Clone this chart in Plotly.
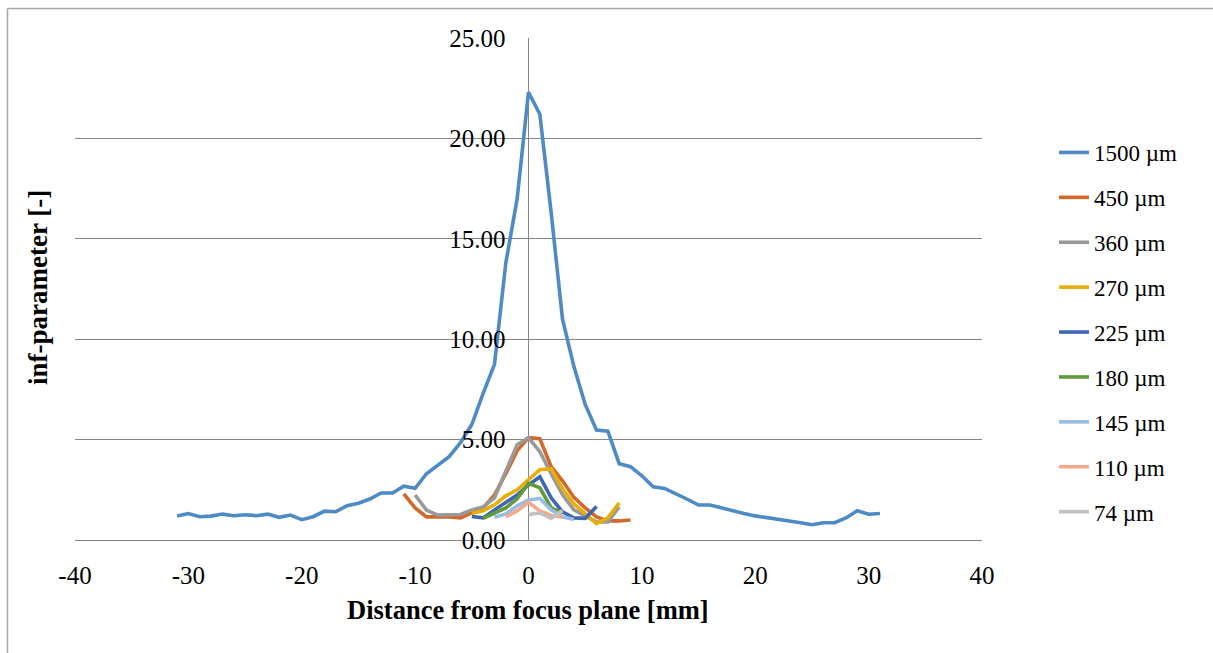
import plotly.graph_objects as go

# ---------------- data ----------------
x_1500 = list(range(-31, 32))
y_1500 = [1.19, 1.32, 1.16, 1.19, 1.29, 1.21, 1.26, 1.21, 1.29, 1.13,
          1.24, 1.01, 1.16, 1.44, 1.41, 1.71, 1.83, 2.04, 2.34, 2.34,
          2.68, 2.57, 3.30, 3.75, 4.15, 4.85, 5.75, 7.30, 8.75, 13.80,
          17.00, 22.30, 21.20, 16.30, 11.00, 8.65, 6.75, 5.47, 5.42, 3.80,
          3.65, 3.20, 2.65, 2.57, 2.32, 2.03, 1.74, 1.74, 1.60, 1.45,
          1.32, 1.20, 1.12, 1.05, 0.96, 0.86, 0.76, 0.86, 0.86, 1.10,
          1.46, 1.28, 1.32]

x_450 = list(range(-11, 10))
y_450 = [2.30, 1.60, 1.15, 1.15, 1.15, 1.10, 1.33, 1.60, 2.25, 3.30,
         4.45, 5.10, 5.05, 3.65, 2.95, 2.12, 1.60, 1.15, 0.95, 0.95, 1.00]

x_360 = list(range(-10, 9))
y_360 = [2.24, 1.49, 1.24, 1.24, 1.27, 1.50, 1.65, 2.10, 3.40, 4.75,
         5.10, 4.40, 3.30, 2.25, 1.50, 1.20, 0.90, 0.90, 1.65]

x_270 = list(range(-5, 9))
y_270 = [1.33, 1.45, 1.75, 2.20, 2.50, 3.00, 3.50, 3.55, 2.55, 1.80,
         1.30, 0.82, 1.10, 1.85]

x_225 = list(range(-5, 7))
y_225 = [1.17, 1.10, 1.50, 1.87, 2.24, 2.74, 3.15, 2.10, 1.40, 1.10, 1.08, 1.67]

x_180 = list(range(-4, 4))
y_180 = [1.08, 1.33, 1.60, 2.05, 2.82, 2.60, 1.60, 1.35]

x_145 = list(range(-3, 5))
y_145 = [1.13, 1.30, 1.70, 1.99, 2.07, 1.50, 1.16, 1.02]

x_110 = list(range(-2, 4))
y_110 = [1.15, 1.45, 1.88, 1.45, 1.22, 1.13]

x_74 = list(range(0, 4))
y_74 = [1.27, 1.35, 1.08, 1.47]

names = ["1500 µm", "450 µm", "360 µm", "270 µm", "225 µm",
         "180 µm", "145 µm", "110 µm", "74 µm"]
colors = ["#4E8BC5", "#D2692A", "#999999", "#E6AE06", "#3E67B1",
          "#5F9A3C", "#98BDE5", "#F2A98C", "#C2C2C2"]
xs = [x_1500, x_450, x_360, x_270, x_225, x_180, x_145, x_110, x_74]
ys = [y_1500, y_450, y_360, y_270, y_225, y_180, y_145, y_110, y_74]

x_ticks = [-40, -30, -20, -10, 0, 10, 20, 30, 40]
y_ticks = [0, 5, 10, 15, 20, 25]

FONT = "Liberation Serif"
W, H = 1213, 653
L, R, T, B = 75, 231, 38, 113
PW, PH = W - L - R, H - T - B

fig = go.Figure()
for i, (n, c, xv, yv) in enumerate(zip(names, colors, xs, ys)):
    fig.add_trace(go.Scatter(x=xv, y=yv, mode="lines", name=n,
                             legendgroup=f"g{i}",
                             line=dict(color=c, width=3.6)))

def px_x(p):
    return (p - L) / PW

def px_y(p):
    return (H - B - p) / PH

fig.update_layout(
    width=W, height=H,
    margin=dict(l=L, r=R, t=T, b=B),
    paper_bgcolor="white", plot_bgcolor="white",
    font=dict(family=FONT, size=25, color="black"),
    showlegend=True,
    legend=dict(x=px_x(1054), y=px_y(131), xanchor="left", yanchor="top",
                font=dict(family=FONT, size=23, color="black"),
                tracegroupgap=12, traceorder="grouped",
                bgcolor="rgba(0,0,0,0)"),
    xaxis=dict(range=[-40, 40], tickvals=x_ticks,
               ticktext=[str(v) for v in x_ticks],
               showgrid=False, zeroline=True, zerolinecolor="#868686",
               zerolinewidth=1,
               showline=True, linecolor="#868686", linewidth=1,
               ticks="", ticklabelstandoff=13,
               tickfont=dict(family=FONT, size=25, color="black")),
    yaxis=dict(range=[0, 25], tickvals=y_ticks,
               ticktext=[f"{v:.2f}" for v in y_ticks],
               anchor="free", position=0.5,
               showgrid=True, gridcolor="#868686", gridwidth=1,
               zeroline=False, showline=False,
               ticks="", ticklabelstandoff=23,
               tickfont=dict(family=FONT, size=25, color="black")),
    annotations=[
        dict(text="<b>Distance from focus plane [mm]</b>", xref="paper",
             yref="paper", x=px_x(528), y=px_y(610), xanchor="center",
             yanchor="middle", showarrow=False,
             font=dict(family=FONT, size=26.5, color="black")),
        dict(text="<b>inf-parameter [-]</b>", xref="paper", yref="paper",
             x=px_x(38), y=px_y(288), xanchor="center", yanchor="middle",
             textangle=-90, showarrow=False,
             font=dict(family=FONT, size=27, color="black")),
    ],
    shapes=[
        dict(type="line", xref="paper", yref="paper",
             x0=px_x(7.5), x1=px_x(1230), y0=px_y(8.5), y1=px_y(8.5),
             line=dict(color="#A6A6A6", width=1.5)),
        dict(type="line", xref="paper", yref="paper",
             x0=px_x(7.5), x1=px_x(7.5), y0=px_y(8.5), y1=px_y(670),
             line=dict(color="#A6A6A6", width=1.5)),
    ],
)

fig.write_html("out.html")
